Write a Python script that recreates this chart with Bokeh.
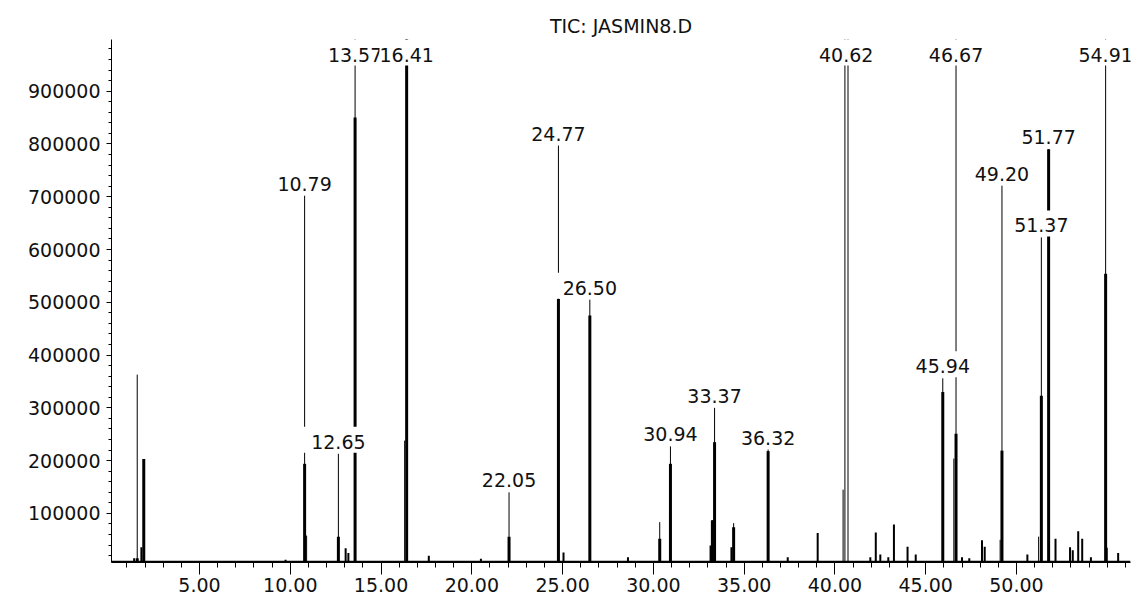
from bokeh.plotting import figure
from bokeh.models import Range1d, FixedTicker, NumeralTickFormatter, ColumnDataSource, LabelSet
from bokeh.core.properties import value
from bokeh.embed import file_html
from bokeh.resources import INLINE
import numpy as np

title_text = "TIC: JASMIN8.D"

x_major = [5, 10, 15, 20, 25, 30, 35, 40, 45, 50]
x_minor = list(range(1, 57))
y_major = [100000, 200000, 300000, 400000, 500000, 600000, 700000, 800000, 900000]
y_minor = list(range(0, 1000001, 20000))

OFF = 1100000  # off-scale peaks (clipped at top of the chart)

# main peaks: retention time (min), apex abundance (thin trace), body abundance (filled part)
peak_rt = [1.57, 1.93, 10.79, 10.90, 12.65, 13.57, 16.30, 16.41, 22.05, 24.77,
           26.50, 30.35, 30.94, 33.25, 33.37, 34.42, 36.32, 40.45, 40.55, 40.72,
           45.94, 46.55, 46.67, 49.10, 49.20, 51.22, 51.37, 51.77, 54.91, 55.00]
peak_apex = [363000, 203000, 702000, 58000, 213000, OFF, 238000, OFF, 140000, 797000,
             505000, 83500, 227000, 87000, 300000, 81600, 221000, 145000, OFF, OFF,
             356000, 204000, OFF, 50000, 721000, 56000, 623000, 790000, OFF, 35000]
peak_body = [15000, 203000, 194000, 0, 56000, 850000, 0, OFF, 56000, 507000,
             475000, 52000, 194000, 87000, 235000, 74000, 218000, 0, 0, 0,
             330000, 0, 251000, 0, 219000, 0, 323000, 790000, 554000, 0]

# labelled peaks
label_text = ["10.79", "12.65", "13.57", "16.41", "22.05", "24.77", "26.50", "30.94",
              "33.37", "36.32", "40.62", "45.94", "46.67", "49.20", "51.37", "51.77", "54.91"]
label_rt = [10.79, 12.65, 13.57, 16.41, 22.05, 24.77, 26.50, 30.94,
            33.37, 36.32, 40.62, 45.94, 46.67, 49.20, 51.37, 51.77, 54.91]
label_height = [702000, 213000, OFF, OFF, 140000, 797000, 505000, 227000,
                300000, 221000, OFF, 356000, OFF, 721000, 623000, 790000, OFF]

# small peaks
small_rt = [1.40, 1.80, 8.90, 9.74, 13.05, 13.20, 17.63, 20.50, 25.05, 28.60,
            33.15, 34.30, 37.40, 39.05, 41.95, 42.25, 42.50, 42.94, 43.25, 44.00,
            44.45, 47.00, 47.40, 48.10, 48.25, 50.60, 52.15, 52.95, 53.10, 53.40,
            53.62, 54.10, 55.60]
small_height = [15000, 36000, 10000, 12000, 34000, 25000, 20000, 14000, 26000, 17000,
                39000, 36000, 17000, 63000, 17000, 64000, 22000, 17000, 79000, 37000,
                22000, 17000, 15000, 49000, 37000, 22000, 52000, 36000, 30000, 66000,
                52000, 17000, 25000]

BASE = 8500
X0, X1 = 0.153, 56.28
Y0, Y1 = 7000, 998000

W, H = 1139, 596
BL, BR, BT, BB = 111, 9, 39, 34
FRAME_H = H - BT - BB
PX = (Y1 - Y0) / FRAME_H          # data units per screen pixel (vertical)
LABEL_TOP = Y1 - 27 * PX          # anchor used for off-scale peaks

FONT = "DejaVu Sans"
FS = "19px"

p = figure(width=W, height=H, x_range=Range1d(X0, X1), y_range=Range1d(Y0, Y1),
           output_backend="svg", toolbar_location=None, title=title_text,
           min_border_left=BL, min_border_right=BR, min_border_top=BT, min_border_bottom=BB)
p.outline_line_color = None
p.grid.visible = False
p.background_fill_color = "white"
p.border_fill_color = "white"

p.title.align = "center"
p.title.text_font = FONT
p.title.text_font_size = FS
p.title.text_font_style = "normal"
p.title.text_color = "#111111"
p.title.standoff = 5

for ax in (p.xaxis[0], p.yaxis[0]):
    ax.axis_line_color = "black"
    ax.major_tick_line_color = "black"
    ax.minor_tick_line_color = "black"
    ax.major_tick_in = 0
    ax.minor_tick_in = 0
    ax.major_label_text_font = FONT
    ax.major_label_text_font_size = FS
    ax.major_label_text_color = "#111111"

p.xaxis.ticker = FixedTicker(ticks=x_major, minor_ticks=x_minor)
p.xaxis.formatter = NumeralTickFormatter(format="0.00")
p.xaxis.major_tick_out = 12
p.xaxis.minor_tick_out = 5
p.xaxis.major_label_standoff = 3
p.xaxis.axis_line_width = 1

p.yaxis.ticker = FixedTicker(ticks=y_major, minor_ticks=y_minor)
p.yaxis.formatter = NumeralTickFormatter(format="0")
p.yaxis.major_tick_out = 5
p.yaxis.minor_tick_out = 3
p.yaxis.major_label_standoff = 6

# baseline of trace
p.line([X0, X1], [BASE, BASE], line_color="black", line_width=2)

rt = np.array(peak_rt)
apex = np.array(peak_apex)
body = np.array(peak_body)
thin_src = ColumnDataSource(dict(x=rt, y0=np.full(len(rt), BASE), y1=apex))
p.segment(x0="x", y0="y0", x1="x", y1="y1", source=thin_src, line_color="black", line_width=1)
mask = body > BASE
thick_src = ColumnDataSource(dict(x=rt[mask], y0=np.full(mask.sum(), BASE), y1=body[mask]))
p.segment(x0="x", y0="y0", x1="x", y1="y1", source=thick_src, line_color="black", line_width=3)

small_src = ColumnDataSource(dict(x=small_rt, y0=[BASE] * len(small_rt), y1=small_height))
p.segment(x0="x", y0="y0", x1="x", y1="y1", source=small_src, line_color="black", line_width=2)

# white boxes behind the peak labels (they mask the trace like the original)
anchor = np.minimum(label_height, LABEL_TOP)
box_src = ColumnDataSource(dict(x=label_rt, y=anchor + 14 * PX))
p.rect(x="x", y="y", width=74, height=26, width_units="screen", height_units="screen",
       source=box_src, fill_color="white", line_color=None)

lab_src = ColumnDataSource(dict(x=label_rt, y=anchor, text=label_text))
labels = LabelSet(x="x", y="y", text="text", source=lab_src, text_align="center",
                  text_baseline="bottom", y_offset=5, text_font=value(FONT), text_font_size=FS,
                  text_color="#111111", background_fill_color="white", background_fill_alpha=1.0)
p.add_layout(labels)

open("out.html", "w").write(file_html(p, INLINE))
